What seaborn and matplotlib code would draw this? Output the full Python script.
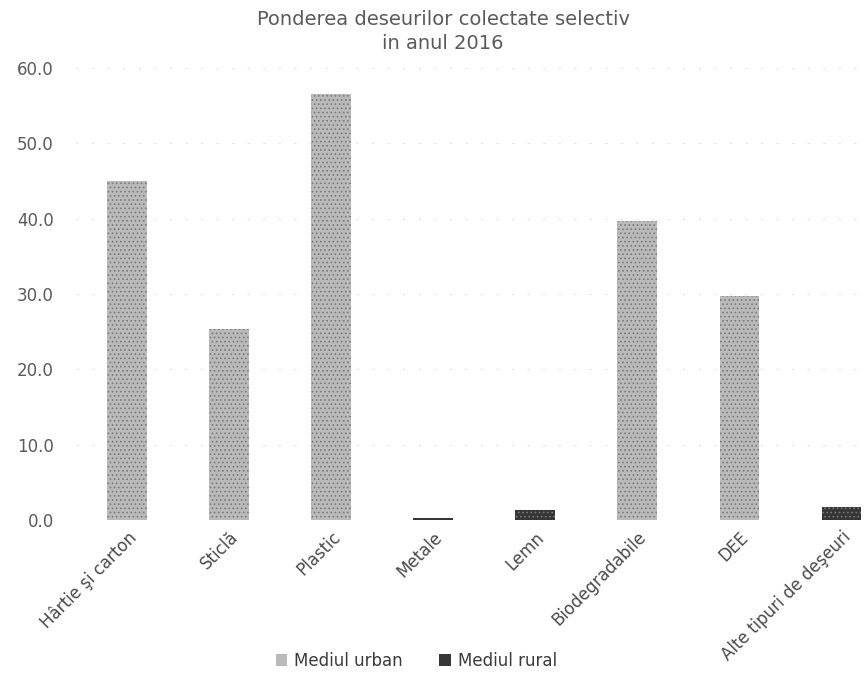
import numpy as np
import pandas as pd
import matplotlib
matplotlib.use("Agg")
import matplotlib.pyplot as plt
import seaborn as sns

# valori (%)
categorii = ["Hârtie şi carton", "Sticlă", "Plastic", "Metale", "Lemn",
             "Biodegradabile", "DEE", "Alte tipuri de deşeuri"]
urban = [45.0, 25.3, 56.6, 0.0, 0.0, 39.7, 29.7, 0.0]
rural = [0.0, 0.0, 0.0, 0.3, 1.3, 0.0, 0.0, 1.7]
serii = ["Mediul urban", "Mediul rural"]
y_ticks = [0, 10, 20, 30, 40, 50, 60]

df = pd.DataFrame({
    "categorie": categorii * 2,
    "valoare": urban + rural,
    "mediu": [serii[0]] * len(categorii) + [serii[1]] * len(categorii),
})

sns.set_style("white")
plt.rcParams["font.family"] = ["DejaVu Sans"]
plt.rcParams["hatch.linewidth"] = 0.7

fig = plt.figure(figsize=(8.67, 6.85), dpi=100)
ax = fig.add_axes([76 / 867, 0.241, (867 - 76) / 867, 0.9007 - 0.241])

culori = {"Mediul urban": "#bababa", "Mediul rural": "#363636"}
sns.barplot(data=df, x="categorie", y="valoare", hue="mediu", dodge=False,
            width=0.39, palette=culori, ax=ax, linewidth=0, saturation=1)

# textura punctata ca in imaginea scanata
for cont in ax.containers:
    for bar in cont:
        bar.set_hatch("....")
        bar.set_edgecolor("#7a7a7a")
        bar.set_linewidth(0)

ax.set_ylim(0, 60)
ax.set_xlim(-0.5, 7.25)
ax.set_yticks(y_ticks)
ax.set_yticklabels([f"{v:.1f}" for v in y_ticks], color="#5a5a5a", fontsize=12)
ax.tick_params(axis="y", length=0, pad=16)
ax.tick_params(axis="x", length=0, pad=6)
ax.set_xticks(range(len(categorii)))
ax.set_xticklabels(categorii, rotation=45, ha="right", rotation_mode="anchor",
                   color="#4a4a4a", fontsize=12)
ax.set_xlabel("")
ax.set_ylabel("")
ax.grid(axis="y", color="#e2e2e2", linestyle=(0, (2, 12)), linewidth=0.8)
ax.set_axisbelow(True)
for s in ax.spines.values():
    s.set_visible(False)

handles, labels = ax.get_legend_handles_labels()
ax.get_legend().remove()
fig.legend(handles, labels, loc="lower center", bbox_to_anchor=(0.48, 0.0),
           ncol=2, frameon=False, fontsize=12, handlelength=0.7,
           handleheight=0.7, columnspacing=2.2, handletextpad=0.4,
           labelcolor="#3a3a3a")

fig.text(0.511, 0.985, "Ponderea deseurilor colectate selectiv\nin anul 2016",
         ha="center", va="top", fontsize=14, color="#5a5a5a", linespacing=1.3)

fig.savefig("out.png", dpi=100)
